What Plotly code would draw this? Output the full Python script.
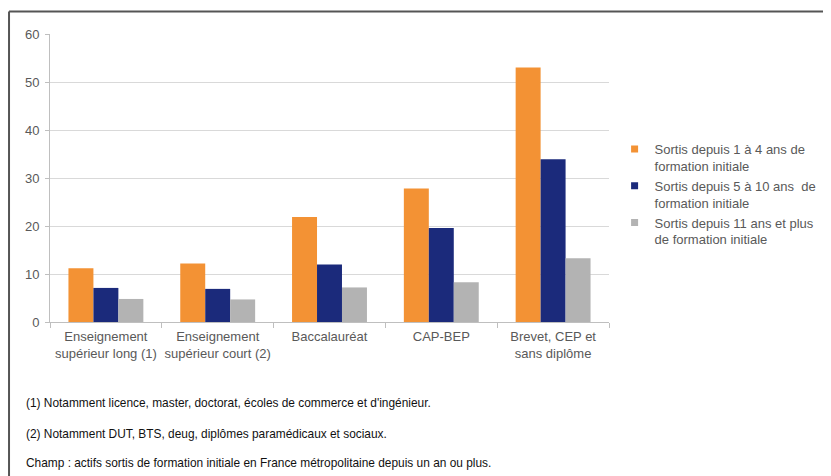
import plotly.graph_objects as go

# Data
categories = [
    "Enseignement<br>supérieur long (1)",
    "Enseignement<br>supérieur court (2)",
    "Baccalauréat",
    "CAP-BEP",
    "Brevet, CEP et<br>sans diplôme",
]
series_names = [
    "Sortis depuis 1 à 4 ans de<br>formation initiale",
    "Sortis depuis 5 à 10 ans  de<br>formation initiale",
    "Sortis depuis 11 ans et plus<br>de formation initiale",
]
recent = [11.2, 12.2, 21.9, 27.8, 53.0]
middle = [7.1, 6.9, 12.0, 19.6, 33.9]
older = [4.8, 4.7, 7.2, 8.3, 13.3]
y_ticks = [0, 10, 20, 30, 40, 50, 60]
footnotes = [
    "(1) Notamment licence, master, doctorat, écoles de commerce et d'ingénieur.",
    "(2) Notamment DUT, BTS, deug, diplômes paramédicaux et sociaux.",
    "Champ : actifs sortis de formation initiale en France métropolitaine depuis un an ou plus.",
]

colors = ["#F39234", "#1B2A7B", "#B3B3B3"]

fig = go.Figure()
for name, vals, col in zip(series_names, [recent, middle, older], colors):
    fig.add_trace(go.Bar(
        x=categories,
        y=vals,
        name=name,
        marker=dict(color=col, line=dict(width=0)),
        showlegend=False,
    ))

# Legend entries with small square symbols, like the original
for name, col in zip(series_names, colors):
    fig.add_trace(go.Scatter(
        x=[None], y=[None],
        mode="markers",
        name=name,
        marker=dict(symbol="square", size=7, color=col),
    ))

# Footnotes below the chart
foot_y = [-0.281, -0.389, -0.49]
for txt, yy in zip(footnotes, foot_y):
    fig.add_annotation(
        xref="paper", yref="paper",
        x=-0.047, y=yy,
        xanchor="left", yanchor="middle",
        text=txt, showarrow=False,
        font=dict(family="Liberation Sans, Arial", size=11.9, color="#111111"),
    )

# Outer frame (top and left edges)
fig.add_shape(type="line", xref="paper", yref="paper",
              x0=-0.0733, x1=1.5, y0=1.078, y1=1.078,
              line=dict(color="#555555", width=2))
fig.add_shape(type="line", xref="paper", yref="paper",
              x0=-0.0733, x1=-0.0733, y0=1.078, y1=-0.6,
              line=dict(color="#555555", width=2))

# The page adds an 8px body margin, so the figure is 8px smaller
fig.update_layout(
    width=823, height=468,
    barmode="group",
    bargap=0.33,
    bargroupgap=0,
    plot_bgcolor="white",
    paper_bgcolor="white",
    font=dict(family="Liberation Sans, Arial", size=13, color="#595959"),
    xaxis=dict(
        showline=True, linecolor="#bfbfbf", linewidth=1,
        ticks="outside", tickson="boundaries", ticklen=5, tickcolor="#bfbfbf",
        showgrid=False,
        tickangle=0,
        tickfont=dict(size=13, color="#595959"),
        ticklabelstandoff=2,
    ),
    yaxis=dict(
        range=[0, 60],
        tickvals=y_ticks,
        showline=True, linecolor="#bfbfbf", linewidth=1,
        ticks="outside", ticklen=4, tickcolor="#bfbfbf",
        gridcolor="#d9d9d9", gridwidth=1,
        zeroline=False,
        tickfont=dict(size=13, color="#595959"),
        ticklabelstandoff=3,
    ),
    legend=dict(
        x=1.01, y=0.653, xanchor="left", yanchor="top",
        valign="top",
        font=dict(size=13, color="#595959"),
        itemwidth=30,
    ),
    margin=dict(l=42, r=222, t=26, b=154, autoexpand=False),
    showlegend=True,
)

fig.write_html("out.html")
